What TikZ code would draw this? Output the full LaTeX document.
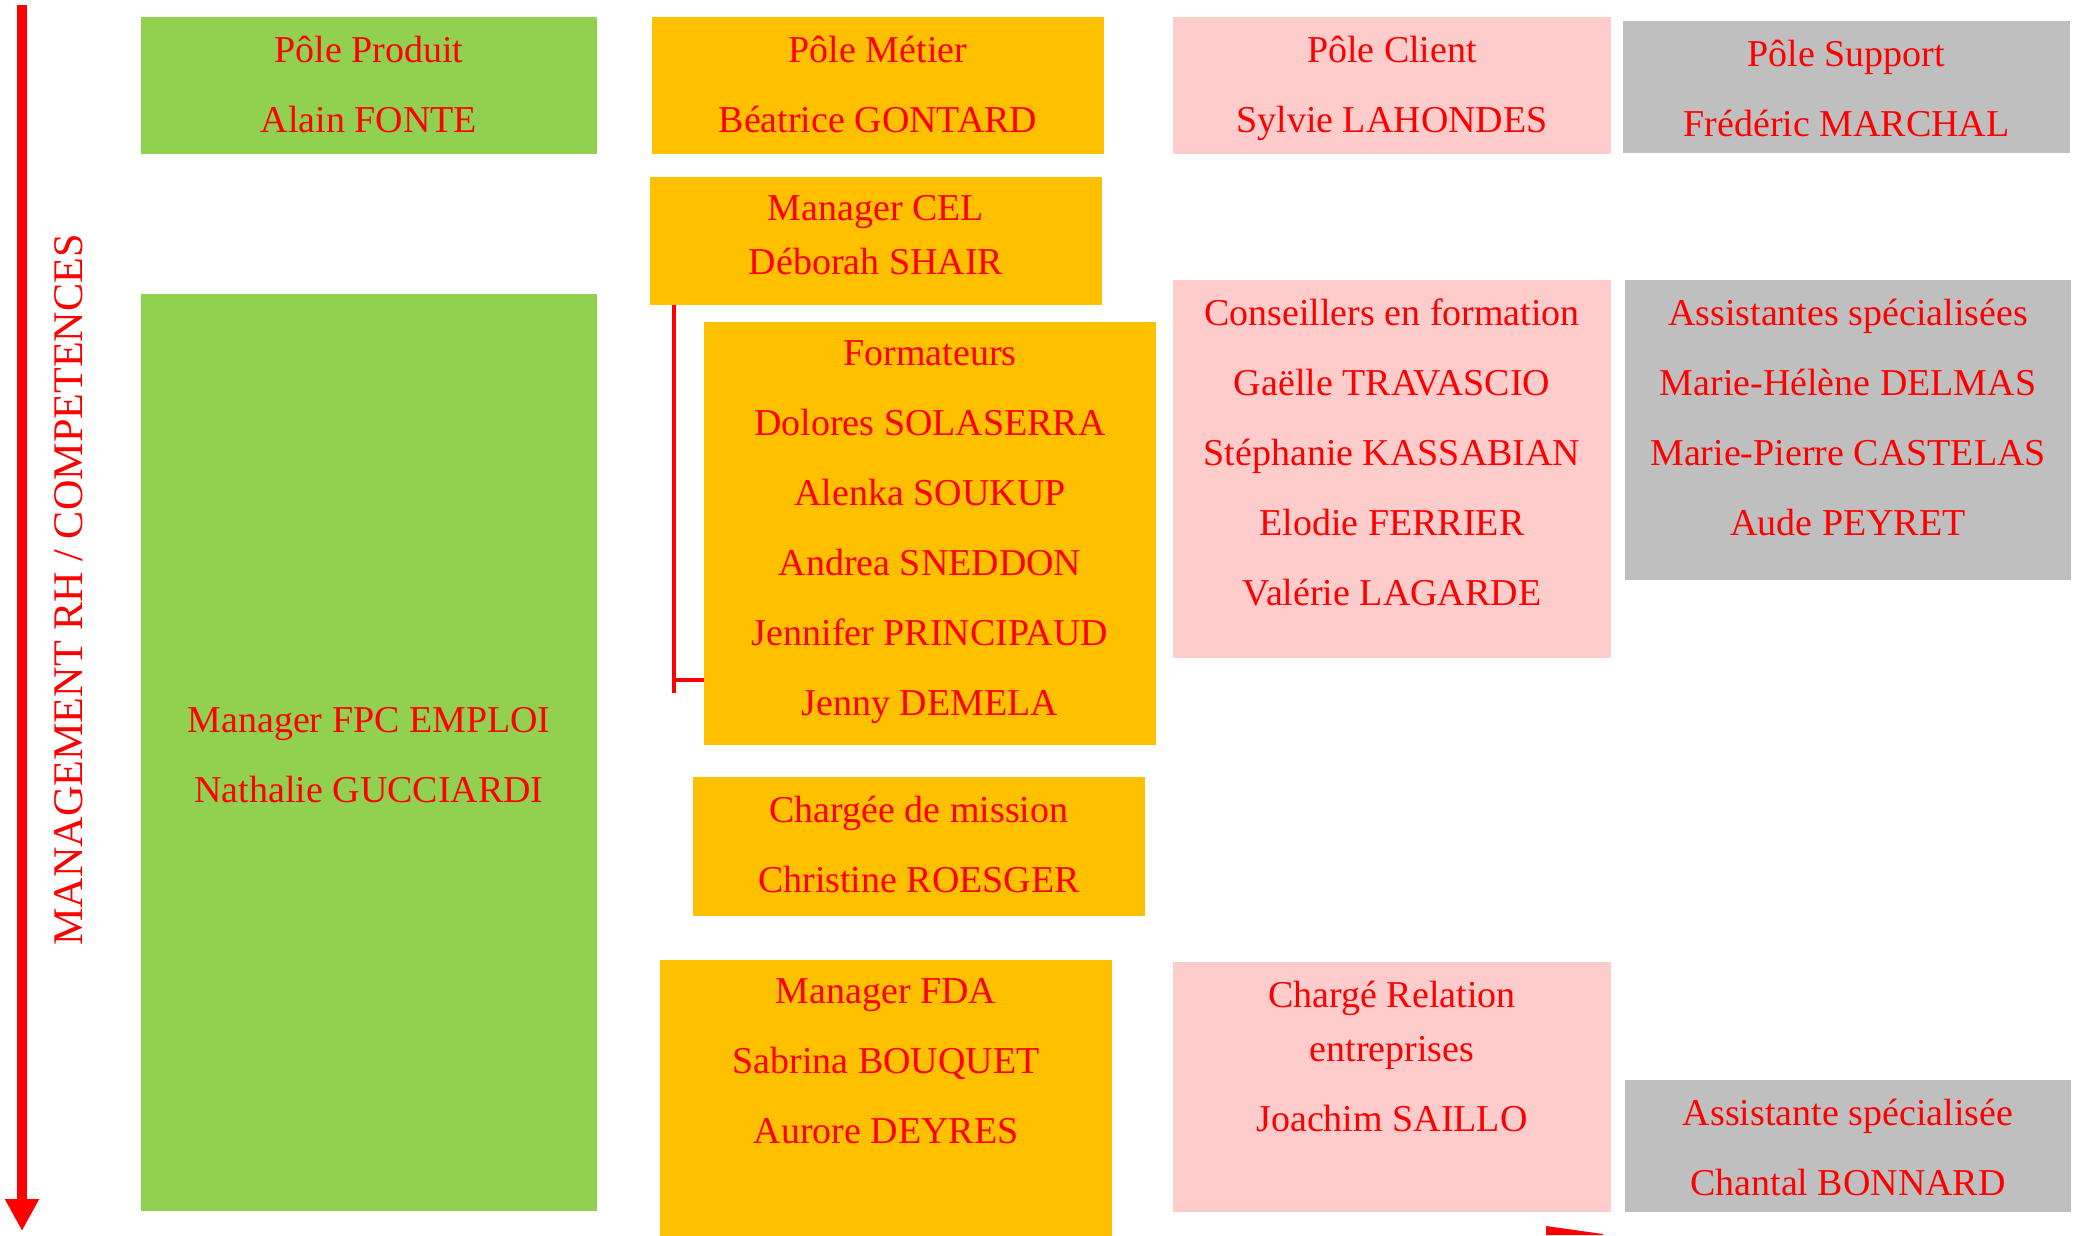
\documentclass[tikz,border=0pt]{standalone}
\usepackage{fontspec}
\setmainfont{Liberation Serif}
\usetikzlibrary{arrows.meta,fit,positioning}

\definecolor{produit}{HTML}{92D050}
\definecolor{metier}{HTML}{FFC000}
\definecolor{client}{HTML}{FFCCCC}
\definecolor{support}{HTML}{BFBFBF}

\begin{document}
\begin{tikzpicture}[x=0.01cm,y=-0.01cm,
    box/.style={rectangle, inner sep=0pt, outer sep=0pt},
    txt/.style={anchor=north, align=center, inner sep=0pt, text=red,
      font=\fontsize{10.8}{19.92}\selectfont, yshift=-0.18cm},
    link/.style={red, line width=0.045cm}]
    \clip (0,0) rectangle (2078,1235);

    % Axis on the left:
    \draw [red, line width=0.09cm, -{Triangle[length=0.32cm,width=0.32cm]}] (22,5) -- (22,1231);
    \node [rotate=90, anchor=base, text=red, font=\fontsize{12}{14}\selectfont] (axe) at (83,590) {MANAGEMENT RH / COMPETENCES};

    % Pole produit:
    \node [box, fill=produit, fit={(141,17) (597,154)}] (prod) {};
    \node [txt] (prodt) at (prod.north) {Pôle Produit\\Alain FONTE};
    \node [box, fill=produit, fit={(141,294) (597,1211)}] (fpc) {};
    \node [txt, below=3.94cm of fpc.north] (fpct) {Manager FPC EMPLOI\\Nathalie GUCCIARDI};

    % Pole metier:
    \node [box, fill=metier, fit={(652,17) (1104,154)}] (metier) {};
    \node [txt] (metiert) at (metier.north) {Pôle Métier\\Béatrice GONTARD};
    \node [box, fill=metier, fit={(650,177) (1102,305)}] (cel) {};
    \node [txt] (celt) at (cel.north) {Manager CEL\\[-4.56pt]Déborah SHAIR};
    \node [box, fill=metier, fit={(704,322) (1156,745)}] (form) {};
    \node [txt] (formt) at (form.north) {Formateurs\\Dolores SOLASERRA\\Alenka SOUKUP\\Andrea SNEDDON\\Jennifer PRINCIPAUD\\Jenny DEMELA};
    \node [box, fill=metier, fit={(693,777) (1145,916)}] (mission) {};
    \node [txt] (missiont) at (mission.north) {Chargée de mission\\Christine ROESGER};
    \node [box, fill=metier, fit={(660,960) (1112,1250)}] (fda) {};
    \node [txt] (fdat) at (fda.north) {Manager FDA\\Sabrina BOUQUET\\Aurore DEYRES};

    \coordinate (hook) at (674,680);
    \draw [link] (cel.south -| hook) -- (hook) -- (hook -| form.west);
    \draw [link] (hook) -- ++(0,13);

    % Pole client:
    \node [box, fill=client, fit={(1173,17) (1611,154)}] (client) {};
    \node [txt] (clientt) at (client.north) {Pôle Client\\Sylvie LAHONDES};
    \node [box, fill=client, fit={(1173,280) (1611,658)}] (conseil) {};
    \node [txt] (conseilt) at (conseil.north) {Conseillers en formation\\Gaëlle TRAVASCIO\\Stéphanie KASSABIAN\\Elodie FERRIER\\Valérie LAGARDE};
    \node [box, fill=client, fit={(1173,962) (1611,1212)}] (relation) {};
    \node [txt] (relationt) at (relation.north) {Chargé Relation\\[-4.56pt]entreprises\\Joachim SAILLO};

    % Pole support:
    \node [box, fill=support, fit={(1623,21) (2070,153)}] (support) {};
    \node [txt] (supportt) at (support.north) {Pôle Support\\Frédéric MARCHAL};
    \node [box, fill=support, fit={(1625,280) (2071,580)}] (assist) {};
    \node [txt] (assistt) at (assist.north) {Assistantes spécialisées\\Marie-Hélène DELMAS\\Marie-Pierre CASTELAS\\Aude PEYRET};
    \node [box, fill=support, fit={(1625,1080) (2071,1212)}] (assistb) {};
    \node [txt] (assistbt) at (assistb.north) {Assistante spécialisée\\Chantal BONNARD};

    \fill [red] (1546,1226) -- (1603,1234) -- (1603,1235) -- (1546,1235) -- cycle;
\end{tikzpicture}
\end{document}
